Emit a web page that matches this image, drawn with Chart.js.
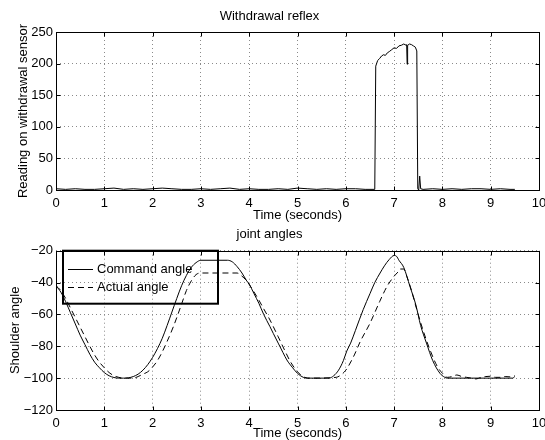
<!DOCTYPE html>
<html>
<head>
<meta charset="utf-8">
<script src="https://cdn.jsdelivr.net/npm/chart.js@4/dist/chart.umd.min.js"></script>
<style>
  html, body { margin: 0; padding: 0; background: #fff; }
  #wrap { position: relative; width: 545px; height: 440px; overflow: hidden; }
  canvas { position: absolute; left: 0; }
  #reflex { top: 0; }
  #angles { top: 220px; }
</style>
</head>
<body>
<div id="wrap">
  <canvas id="reflex" width="545" height="224"></canvas>
  <canvas id="angles" width="545" height="220"></canvas>
</div>
<script>
// --- data ---
const reflexTime = [
  0, 0.2, 0.4, 0.6, 0.8, 1.0, 1.2, 1.4, 1.6, 1.8, 2.0, 2.2, 2.4, 2.6, 2.8, 3.0, 3.2,
  3.4, 3.6, 3.8, 4.0, 4.2, 4.4, 4.6, 4.8, 5.0, 5.2, 5.4, 5.6, 5.8, 6.0, 6.2, 6.4, 6.6,
  6.62, 6.66, 6.7, 6.74, 6.78, 6.82, 6.86, 6.9, 6.95, 7.0, 7.05, 7.1, 7.15, 7.2, 7.25,
  7.26, 7.27, 7.28, 7.32, 7.36, 7.4, 7.44, 7.47, 7.49, 7.51, 7.53, 7.55, 7.6,
  7.8, 8.0, 8.2, 8.4, 8.6, 8.8, 9.0, 9.2, 9.4, 9.5
];
const reflexValue = [
  2, 1, 2, 1, 1, 2, 3, 1, 2, 1, 2, 3, 2, 1, 1, 2, 1,
  2, 3, 1, 2, 1, 1, 2, 1, 3, 2, 1, 2, 1, 2, 2, 1, 1,
  196, 205, 208, 212, 214, 213, 217, 219, 222, 225, 224, 228, 229, 231, 229,
  230, 199, 229, 231, 230, 228, 226, 220, 2, 0, 22, 2, 1,
  2, 1, 2, 1, 2, 2, 1, 2, 1, 1
];

const commandTime = [
  0, 0.1, 0.2, 0.3, 0.4, 0.5, 0.6, 0.7, 0.8, 0.9, 1.0, 1.1, 1.2, 1.3, 1.4, 1.5, 1.6,
  1.7, 1.8, 1.9, 2.0, 2.1, 2.2, 2.3, 2.4, 2.5, 2.6, 2.7, 2.8, 2.9, 3.0, 3.55, 3.65,
  3.75, 3.85, 3.95, 4.0, 4.1, 4.2, 4.3, 4.43, 4.5, 4.6, 4.7, 4.78, 4.9, 5.0, 5.12,
  5.2, 5.65, 5.75, 5.85, 5.95, 6.02, 6.1, 6.2, 6.36, 6.5, 6.6, 6.71, 6.8, 6.9, 7.0,
  7.05, 7.1, 7.2, 7.33, 7.45, 7.55, 7.67, 7.8, 7.95, 8.05, 8.1, 9.45, 9.5
];
const commandAngle = [
  -42, -46, -52, -59, -66, -73, -79, -85, -90, -93.5, -96.5, -98.5, -99.6, -100, -100, -99.8, -99,
  -97.5, -95, -91.5, -87, -81.5, -75, -67, -58.5, -50, -42, -35.5, -30.5, -27.5, -26, -26, -27,
  -30, -34, -39, -41, -47, -53, -60, -67.7, -72, -78, -84, -88.6, -93.5, -97, -99.5,
  -100, -100, -98.5, -95, -89, -83, -78, -70, -57, -47, -40, -34, -29.5, -25.5, -23,
  -23.5, -26, -30.5, -42.6, -54, -67, -78, -89, -97, -99.5, -100, -100, -99
];

const actualTime = [
  0, 0.1, 0.2, 0.3, 0.4, 0.5, 0.6, 0.7, 0.8, 0.9, 1.0, 1.1, 1.2, 1.3, 1.4, 1.6, 1.7,
  1.8, 1.9, 2.0, 2.1, 2.2, 2.3, 2.43, 2.5, 2.6, 2.7, 2.8, 2.9, 3.0, 3.75, 3.85, 3.95,
  4.05, 4.2, 4.3, 4.43, 4.6, 4.75, 4.85, 5.0, 5.15, 5.25, 5.8, 5.9, 6.0, 6.16, 6.3,
  6.5, 6.7, 6.85, 7.0, 7.09, 7.12, 7.2, 7.25, 7.35, 7.47, 7.6, 7.74, 7.9, 8.02, 8.1,
  8.2, 8.3, 8.4, 8.5, 8.6, 8.7, 8.8, 8.9, 9.0, 9.1, 9.2, 9.3, 9.4, 9.5
];
const actualAngle = [
  -42, -45, -50, -56, -62, -68, -74, -80, -85.5, -90, -93.5, -96.5, -98.5, -99.5, -100, -100, -99,
  -97.5, -96, -93, -89, -83.5, -77, -67.7, -62, -53.5, -45, -39, -35, -34, -34, -36, -39,
  -43.5, -51, -56.5, -63.5, -74, -83.5, -89.5, -96, -99.5, -100, -99.5, -98, -95, -86.5, -77,
  -65.6, -52, -42.6, -36, -33, -31.5, -31.5, -35, -44, -57, -70, -82, -93, -97.5, -99.5,
  -99, -98, -99, -99.5, -100, -100.5, -99.5, -99, -98.8, -99.5, -99.5, -99, -99.2, -98.5
];

// --- shared look ---
const FONT = { family: '"Liberation Sans", Arial, sans-serif', size: 13 };
Chart.defaults.font = FONT;
Chart.defaults.color = '#000';

const points = (xs, ys) => xs.map((t, i) => ({ x: t, y: ys[i] }));

// box round the plot plus inward tick marks
const frame = {
  id: 'frame',
  afterDatasetsDraw(chart) {
    const { ctx, chartArea: a, scales: { x, y } } = chart;
    const L = Math.round(a.left) + 0.5, R = Math.round(a.right) + 0.5;
    const T = Math.round(a.top) + 0.5, B = Math.round(a.bottom) + 0.5;
    ctx.save();
    ctx.strokeStyle = '#000';
    ctx.lineWidth = 1;
    ctx.strokeRect(L, T, R - L, B - T);
    ctx.beginPath();
    x.ticks.forEach(t => {
      const px = Math.round(x.getPixelForValue(t.value)) + 0.5;
      ctx.moveTo(px, T); ctx.lineTo(px, T + 4);
      ctx.moveTo(px, B); ctx.lineTo(px, B - 4);
    });
    y.ticks.forEach(t => {
      const py = Math.round(y.getPixelForValue(t.value)) + 0.5;
      ctx.moveTo(L, py); ctx.lineTo(L + 4, py);
      ctx.moveTo(R, py); ctx.lineTo(R - 4, py);
    });
    ctx.stroke();
    ctx.restore();
  },
};

// matlab-like legend sitting inside the top-left corner
const boxLegend = {
  id: 'boxLegend',
  afterDraw(chart) {
    const { ctx, chartArea: a } = chart;
    const left = a.left + 7, top = a.top, w = 155, h = 53;
    ctx.save();
    ctx.strokeStyle = '#000';
    ctx.lineWidth = 2;
    ctx.strokeRect(left, top, w, h);
    ctx.font = `${FONT.size}px ${FONT.family}`;
    ctx.fillStyle = '#000';
    ctx.textBaseline = 'middle';
    chart.data.datasets.forEach((ds, i) => {
      const ly = Math.round(top + 18 + i * 18.5) + 0.5;
      ctx.lineWidth = 1;
      ctx.setLineDash(ds.borderDash || []);
      ctx.beginPath();
      ctx.moveTo(left + 5, ly);
      ctx.lineTo(left + 30, ly);
      ctx.stroke();
      ctx.setLineDash([]);
      ctx.fillText(ds.label, left + 34, ly);
    });
    ctx.restore();
  },
};

function xAxis(xHeight, titlePad) {
  return {
    type: 'linear', min: 0, max: 10,
    ticks: { stepSize: 1, padding: 6, maxRotation: 0 },
    grid: { color: '#8a8a8a', drawTicks: false },
    border: { display: false, dash: [1, 3] },
    title: { display: true, text: 'Time (seconds)', font: { lineHeight: 1 }, padding: { top: 0, bottom: titlePad } },
    afterFit(scale) { scale.height = xHeight; scale.paddingLeft = 0; scale.paddingRight = 0; },
  };
}

function yAxis(min, max, step, title, titlePad, fmt) {
  return {
    min, max,
    ticks: { stepSize: step, padding: 3, callback: fmt },
    grid: { color: '#8a8a8a', drawTicks: false },
    border: { display: false, dash: [1, 3] },
    title: { display: true, text: title, padding: { top: titlePad, bottom: 0 } },
    afterFit(scale) { scale.width = 56; },
  };
}

const common = {
  responsive: false,
  animation: false,
  devicePixelRatio: 1,
  layout: { padding: { left: 0, right: 6, top: 0, bottom: 0 } },
  elements: { point: { radius: 0 }, line: { borderWidth: 1, borderColor: '#000' } },
};

new Chart(document.getElementById('reflex'), {
  type: 'line',
  data: {
    datasets: [{
      label: 'Reading',
      data: points(reflexTime, reflexValue),
      borderColor: '#000',
      borderWidth: 1,
      tension: 0,
    }],
  },
  plugins: [frame],
  options: {
    ...common,
    plugins: {
      legend: { display: false },
      tooltip: { enabled: false },
      title: { display: true, text: 'Withdrawal reflex', color: '#000', font: { size: 13, weight: 'normal' }, padding: { top: 8.2, bottom: 8.2 } },
    },
    scales: {
      x: xAxis(34, 2.5),
      y: yAxis(0, 250, 50, 'Reading on withdrawal sensor', 15.2),
    },
  },
});

new Chart(document.getElementById('angles'), {
  type: 'line',
  data: {
    datasets: [
      {
        label: 'Command angle',
        data: points(commandTime, commandAngle),
        borderColor: '#000',
        borderWidth: 1,
        cubicInterpolationMode: 'monotone',
      },
      {
        label: 'Actual angle',
        data: points(actualTime, actualAngle),
        borderColor: '#000',
        borderWidth: 1,
        borderDash: [6, 4],
        cubicInterpolationMode: 'monotone',
      },
    ],
  },
  plugins: [frame, boxLegend],
  options: {
    ...common,
    plugins: {
      legend: { display: false },
      tooltip: { enabled: false },
      title: { display: true, text: 'joint angles', color: '#000', font: { size: 13, weight: 'normal' }, padding: { top: 6.2, bottom: 8.9 } },
    },
    scales: {
      x: xAxis(30, 0.5),
      y: yAxis(-120, -20, 20, 'Shoulder angle', 7.7, v => String(v).replace('-', '\u2212')),
    },
  },
});
</script>
</body>
</html>
